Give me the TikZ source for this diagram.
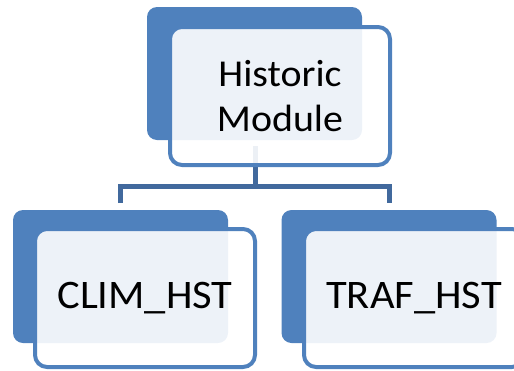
\documentclass[tikz,border=0pt]{standalone}
\usepackage{fontspec}
\setmainfont[FakeStretch=1.05]{Carlito}
\definecolor{accent}{HTML}{4F81BD}
\definecolor{conn}{HTML}{41699D}
\begin{document}
\begin{tikzpicture}[x=1pt,y=-1pt,
  backbox/.style={fill=accent,draw=none,rounded corners=10pt,minimum width=215pt,minimum height=133pt,inner sep=0pt},
  frontbox/.style={fill=white,fill opacity=0.9,text opacity=1,draw=accent,line width=4pt,rounded corners=12pt,minimum width=220pt,minimum height=138pt,inner sep=0pt,align=center},
  conline/.style={draw=conn,line width=5pt}]
\useasboundingbox (0,0) rectangle (514,370);
\begin{scope}
\clip (0,0) rectangle (514,370);
% top
\node[backbox] (tb) at (254.5,73.5) {};
\coordinate (tstart) at (255,146);
\coordinate (hl) at (120.5,186.5);
\coordinate (hr) at (389,186.5);
\coordinate (hm) at (255,186.5);
\draw[conline] (tstart) -- (hm);
\draw[conline] ([yshift=-16.5pt]hl) -- (hl) -- (hr) -- ([yshift=-16.5pt]hr);
\node[frontbox,font=\fontsize{38}{46}\selectfont] (tf) at (280,96) {Historic\\[-1pt]Module};
% left
\node[backbox] (lb) at (120.5,276.5) {};
\node[frontbox,font=\fontsize{40.5}{48}\selectfont] (lf) at (145,298) {\raisebox{-3pt}{CLIM\_HST}};
% right
\node[backbox] (rb) at (389,276.5) {};
\node[frontbox,font=\fontsize{40.5}{48}\selectfont] (rf) at (414,298) {\raisebox{-3pt}{TRAF\_HST}};
\end{scope}
\end{tikzpicture}
\end{document}
